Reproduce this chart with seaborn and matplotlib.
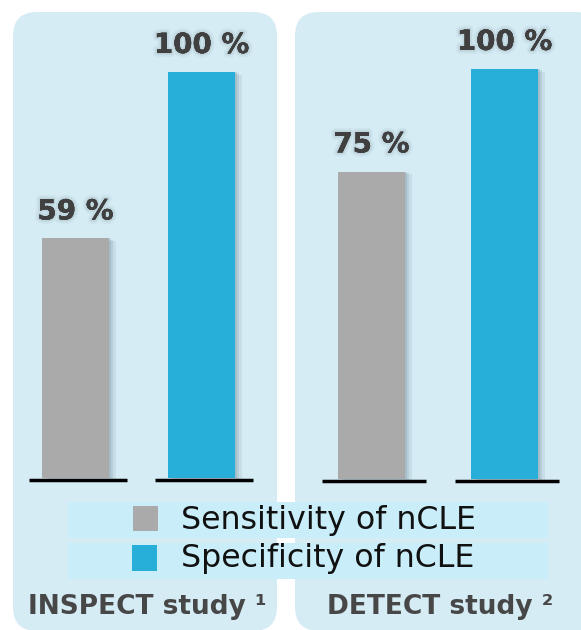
import matplotlib
matplotlib.use("Agg")
import matplotlib.pyplot as plt
import matplotlib.patheffects as pe
from matplotlib.patches import FancyBboxPatch, Rectangle
import seaborn as sns
import pandas as pd

# ---- data ----
studies = ["INSPECT study \u00b9", "DETECT study \u00b2"]
metrics = ["Sensitivity of nCLE", "Specificity of nCLE"]
inspect_values = [59, 100]
detect_values = [75, 100]
value_labels_inspect = ["59 %", "100 %"]
value_labels_detect = ["75 %", "100 %"]

GRAY = "#aaaaaa"
BLUE = "#27aed9"
PANEL = "#d5ecf5"
STRIP = "#c9eefa"
TXT = "#404040"

sns.set_theme(style="white")
plt.rcParams["font.family"] = ["DejaVu Sans"]

W, H = 581, 630
fig = plt.figure(figsize=(W / 100, H / 100), dpi=100)
fig.patch.set_facecolor("white")

# background axes in pixel coordinates for panels / legend
bg = fig.add_axes([0, 0, 1, 1], zorder=0)
bg.set_xlim(0, W)
bg.set_ylim(H, 0)
bg.axis("off")

for x0, x1 in [(13, 277), (295, 600)]:
    bg.add_patch(FancyBboxPatch((x0 + 24, 12 + 24), (x1 - x0) - 48, 630 - 12 - 24 - 24 + 1,
                                boxstyle="round,pad=24", fc=PANEL, ec="none"))

# legend strips
bg.add_patch(Rectangle((68, 502), 480, 36, fc=STRIP, ec="none"))
bg.add_patch(Rectangle((68, 543), 480, 36, fc=STRIP, ec="none"))
bg.add_patch(Rectangle((133, 506), 25, 25, fc=GRAY, ec="none"))
bg.add_patch(Rectangle((132, 545), 25, 26, fc=BLUE, ec="none"))
bg.text(181, 520, metrics[0], fontsize=22.8, fontweight="normal", color="#111111", va="center", ha="left")
bg.text(181, 559, metrics[1], fontsize=22.8, fontweight="normal", color="#111111", va="center", ha="left")

# study labels
bg.text(147, 607, studies[0], fontsize=19, fontweight="bold", color="#474747", va="center", ha="center")
bg.text(440, 607, studies[1], fontsize=19, fontweight="bold", color="#474747", va="center", ha="center")


def make_axes(left_px, right_px, base_px, top100_px):
    h = base_px - top100_px
    ax = fig.add_axes([left_px / W, (H - base_px) / H, (right_px - left_px) / W, h / H], zorder=2)
    return ax


text_fx = [pe.withStroke(linewidth=6, foreground=(0.6, 0.68, 0.72, 0.12)),
           pe.withStroke(linewidth=3, foreground=(0.55, 0.62, 0.66, 0.18)), pe.Normal()]
bar_fx = [pe.SimplePatchShadow(offset=(5, -2), shadow_rgbFace=(0.4, 0.5, 0.55), alpha=0.12),
          pe.SimplePatchShadow(offset=(3, -1), shadow_rgbFace=(0.4, 0.5, 0.55), alpha=0.18),
          pe.SimplePatchShadow(offset=(1.5, 0), shadow_rgbFace=(0.4, 0.5, 0.55), alpha=0.2),
          pe.Normal()]

panels = [
    (12.5, 264.5, 478, 72, inspect_values, value_labels_inspect, 0.532),
    (305, 571, 479, 69, detect_values, value_labels_detect, 0.504),
]

for left, right, base, top, vals, labs, bw in panels:
    ax = make_axes(left, right, base, top)
    df = pd.DataFrame({"metric": metrics, "value": vals})
    sns.barplot(data=df, x="metric", y="value", hue="metric", palette=[GRAY, BLUE],
                width=bw, legend=False, ax=ax, saturation=1, linewidth=0, edgecolor="none")
    ax.set_xlim(-0.5, 1.5)
    ax.set_ylim(0, 100)
    ax.axis("off")
    ax.patch.set_alpha(0)
    for p in ax.patches:
        p.set_path_effects(bar_fx)
        p.set_clip_on(False)
    for i, (v, lab) in enumerate(zip(vals, labs)):
        ax.hlines(-0.4, i - 0.37, i + 0.41, color="black", lw=2.5, clip_on=False)
        ax.text(i, v + 3.2, lab, ha="center", va="bottom", fontsize=20, fontweight="bold",
                color=TXT, clip_on=False, path_effects=text_fx)

fig.savefig("out.png", dpi=100, facecolor="white")
